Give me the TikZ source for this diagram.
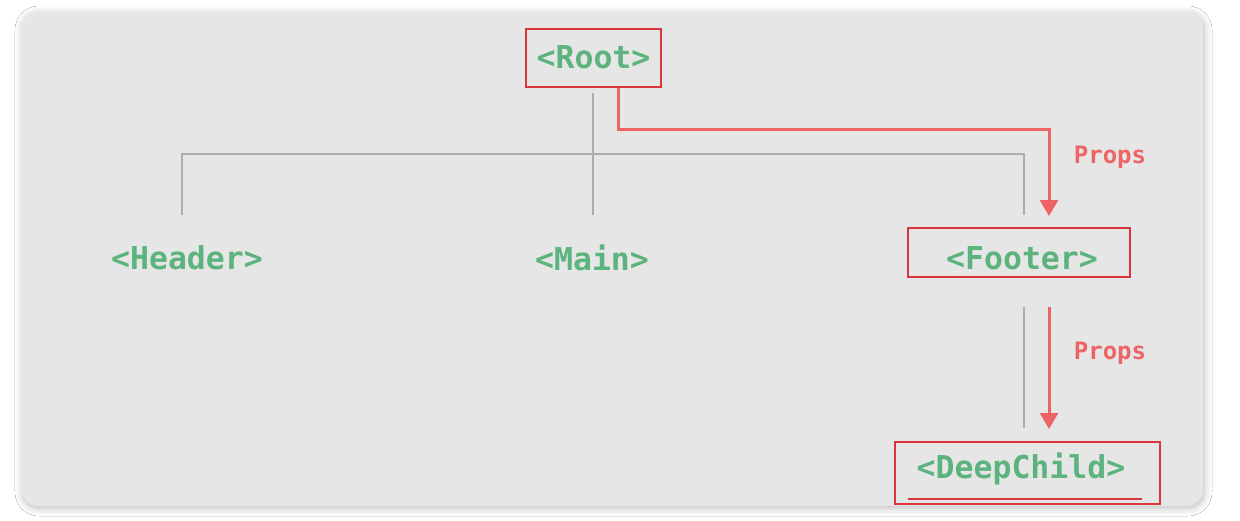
\documentclass[tikz,border=0pt]{standalone}
\usepackage{fontspec}
\newfontfamily\codefont{DejaVu Sans Mono}
\usetikzlibrary{arrows.meta,shadows.blur,calc}
\definecolor{panel}{HTML}{E6E6E6}
\definecolor{codegreen}{HTML}{5CB37E}
\definecolor{boxred}{HTML}{D9363E}
\definecolor{arrowred}{HTML}{EE6464}
\definecolor{treegray}{HTML}{ACACAC}
\tikzset{
  code/.style={font=\codefont\bfseries\fontsize{31.5}{36}\selectfont, text=codegreen, inner sep=0pt},
  redbox/.style={code, draw=boxred, line width=2pt},
  tree/.style={draw=treegray, line width=2pt},
  pass/.style={draw=arrowred, line width=3pt, -{Triangle[width=18pt,length=16pt]}},
  lbl/.style={font=\codefont\bfseries\fontsize{24}{28}\selectfont, text=arrowred, inner sep=0pt}
}
\begin{document}
\begin{tikzpicture}[x=1pt,y=-1pt]
\useasboundingbox (0,0) rectangle (1240,520);
\fill[white] (0,0) rectangle (1240,520);
\fill[panel, rounded corners=16pt, blur shadow={shadow xshift=1pt, shadow yshift=-2pt, shadow blur radius=8pt, shadow opacity=28}] (22,12) rectangle (1203,506);

% nodes
\node[redbox, minimum width=135pt, minimum height=58pt, text height=24pt, text depth=4pt] (root) at (593.5,58) {<Root>};
\node[code] (header) at (187,258) {<Header>};
\node[code] (main) at (592,258) {<Main>};
\node[redbox, minimum width=222pt, minimum height=49pt, text height=36pt, text depth=3pt] (footer) at (1019,252.5) {\hspace*{6pt}<Footer>};
\node[redbox, minimum width=265pt, minimum height=62pt, text height=14pt, text depth=4pt] (deep) at (1027.5,473) {<DeepChild>\hspace*{13pt}};
\draw[boxred, line width=2pt] ($(deep.south west)+(14,-6)$) -- ($(deep.south east)+(-19,-6)$);

% tree lines
\coordinate (rootdown) at (593,93);
\coordinate (hL) at (182,154);
\coordinate (hR) at (1024,154);
\coordinate (hEndL) at (182,215);
\coordinate (hEndM) at (593,215);
\coordinate (hEndR) at (1024,215);
\draw[tree] (rootdown) -- (hEndM);
\draw[tree] (hEndL) -- (hL) -- (hR) -- (hEndR);
\coordinate (fdown) at (1024,307);
\coordinate (dup) at (1024,428);
\draw[tree] (fdown) -- (dup);

% props arrows
\coordinate (turn) at (1049,129);
\coordinate (tip1) at (1049,216);
\draw[pass] (root.south -| 618,0) |- (turn) -- (tip1);
\coordinate (start2) at (1049,307);
\coordinate (tip2) at (1049,429);
\draw[pass] (start2) -- (tip2);

\node[lbl] (props1) at (1110,157) {Props};
\node[lbl] (props2) at (1110,353) {Props};
\end{tikzpicture}
\end{document}
